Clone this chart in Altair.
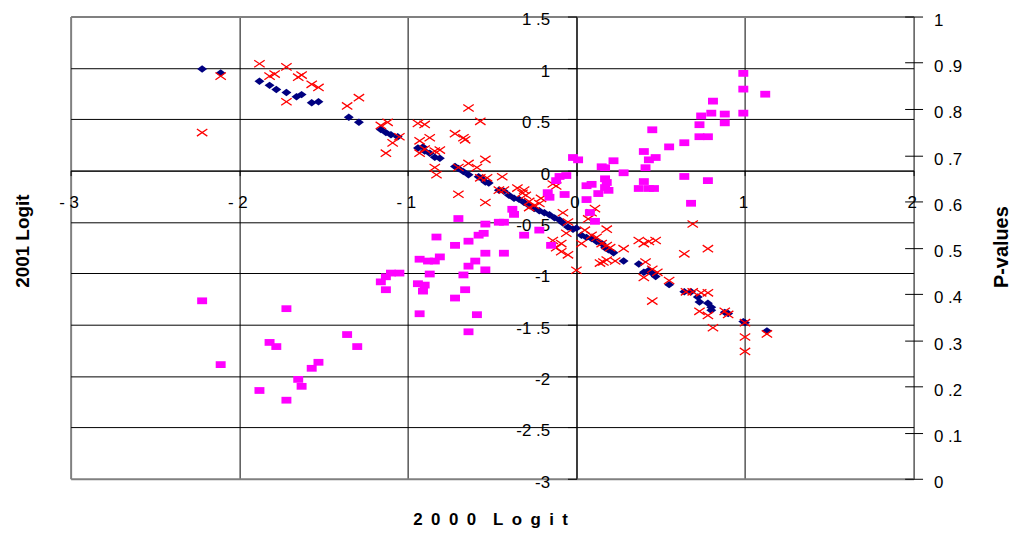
import altair as alt
import pandas as pd

# ---- data ----
blue_x = [-2.22, -2.11, -1.88, -1.82, -1.78, -1.72, -1.66, -1.63, -1.57, -1.53, -1.35, -1.29, -1.16, -1.13,
          -1.10, -1.06, -0.94, -0.91, -0.90, -0.87, -0.84, -0.81, -0.72, -0.70, -0.67, -0.64, -0.58, -0.56,
          -0.54, -0.52, -0.46, -0.43, -0.40, -0.37, -0.34, -0.31, -0.28, -0.25, -0.22, -0.19, -0.16, -0.13,
          -0.10, -0.08, -0.05, -0.02, 0.00, 0.03, 0.06, 0.09, 0.12, 0.15, 0.17, 0.19, 0.22, 0.28, 0.37, 0.40,
          0.43, 0.45, 0.47, 0.55, 0.64, 0.68, 0.72, 0.73, 0.78, 0.80, 0.80, 0.88, 0.90, 0.99, 1.00, 1.13]
blue_y = [0.99, 0.95, 0.87, 0.83, 0.79, 0.76, 0.72, 0.74, 0.66, 0.67, 0.52, 0.47, 0.40, 0.37,
          0.35, 0.33, 0.22, 0.23, 0.19, 0.17, 0.13, 0.12, 0.04, 0.02, -0.01, -0.04, -0.06, -0.08,
          -0.11, -0.12, -0.19, -0.20, -0.24, -0.27, -0.28, -0.31, -0.34, -0.37, -0.39, -0.41, -0.43, -0.46,
          -0.48, -0.51, -0.55, -0.57, -0.56, -0.63, -0.65, -0.66, -0.69, -0.71, -0.75, -0.77, -0.80, -0.88, -0.91, -0.99,
          -0.97, -1.00, -1.03, -1.11, -1.18, -1.18, -1.23, -1.28, -1.29, -1.33, -1.36, -1.38, -1.39, -1.47, -1.48, -1.56]

red_x = [-1.88, -1.82, -1.79, -1.72, -1.65, -1.63, -1.57, -1.53, -2.11, -2.22, -1.72, -1.36, -1.29, -1.16,
         -1.12, -1.09, -1.05, -1.13, -0.94, -0.90, -0.93, -0.87, -0.93, -0.90, -0.84, -0.81, -0.84, -0.83,
         -0.72, -0.70, -0.64, -0.57, -0.67, -0.66, -0.70, -0.64, -0.59, -0.54, -0.57, -0.53, -0.44, -0.54,
         -0.46, -0.43, -0.32, -0.30, -0.28, -0.21, -0.22, -0.25, -0.28, -0.14, -0.12, -0.08, -0.05, -0.06,
         -0.09, -0.12, -0.05, -0.09, -0.14, 0.00, 0.05, 0.09, 0.11, 0.07, 0.03, 0.18, 0.09, 0.12, 0.15, 0.18,
         0.20, 0.28, 0.14, 0.16, 0.18, 0.23, 0.37, 0.40, 0.43, 0.47, 0.41, 0.40, 0.45, 0.48, 0.55, 0.64, 0.69,
         0.45, 0.65, 0.69, 0.74, 0.78, 0.78, 0.73, 0.78, 0.81, 0.88, 0.90, 1.00, 1.00, 1.00, 1.13, -0.35, -0.31]
red_y = [1.04, 0.92, 0.94, 1.01, 0.91, 0.93, 0.84, 0.81, 0.92, 0.37, 0.67, 0.63, 0.71, 0.44,
         0.47, 0.27, 0.33, 0.17, 0.46, 0.45, 0.29, 0.32, 0.17, 0.21, 0.19, 0.20, 0.03, -0.04,
         0.36, -0.23, 0.61, 0.48, 0.32, 0.30, 0.03, 0.07, 0.03, 0.11, -0.07, -0.07, -0.06, -0.31,
         -0.19, -0.19, -0.22, -0.24, -0.30, -0.27, -0.32, -0.34, -0.36, -0.13, -0.15, -0.41, -0.50, -0.61,
         -0.71, -0.75, -0.82, -0.79, -0.68, -0.97, -0.58, -0.41, -0.37, -0.47, -0.71, -0.57, -0.63, -0.65, -0.71, -0.73,
         -0.75, -0.76, -0.90, -0.89, -0.87, -0.88, -0.68, -0.71, -0.69, -0.68, -0.89, -1.04, -0.96, -0.99, -1.07, -0.81, -0.52,
         -1.27, -1.18, -1.18, -1.19, -1.19, -0.76, -1.37, -1.41, -1.53, -1.37, -1.40, -1.48, -1.62, -1.76, -1.59, -0.17, -0.19]

mag_x = [-2.22, -1.72, -2.11, -1.88, -1.82, -1.78, -1.72, -1.65, -1.63, -1.57, -1.53, -1.36, -1.30, -1.16,
         -1.13, -1.13, -1.10, -1.05, -0.94, -0.90, -0.91, -0.93, -0.87, -0.93, -0.88, -0.84, -0.81, -0.83,
         -0.72, -0.64, -0.58, -0.55, -0.54, -0.72, -0.67, -0.66, -0.64, -0.60, -0.64, -0.59, -0.70, -0.46,
         -0.43, -0.38, -0.37, -0.43, -0.54, -0.54, -0.31, -0.22, -0.15, -0.17, -0.16, -0.07, -0.12, -0.10,
         -0.06, -0.02, 0.01, 0.15, 0.17, 0.09, 0.06, 0.13, 0.17, 0.18, 0.17, 0.19, 0.22, 0.28, 0.06, 0.08,
         0.11, 0.37, 0.40, 0.43, 0.46, 0.40, 0.43, 0.47, 0.41, 0.45, 0.55, 0.64, 0.64, 0.68, 0.73, 0.78,
         0.73, 0.74, 0.80, 0.81, 0.78, 0.88, 0.88, 0.99, 0.99, 0.99, 1.12]
mag_p = [0.385, 0.368, 0.247, 0.191, 0.295, 0.286, 0.170, 0.215, 0.200, 0.239, 0.252, 0.312, 0.286, 0.426,
         0.437, 0.409, 0.445, 0.445, 0.422, 0.419, 0.406, 0.357, 0.443, 0.475, 0.471, 0.471, 0.480, 0.523,
         0.505, 0.514, 0.527, 0.531, 0.551, 0.391, 0.441, 0.409, 0.460, 0.471, 0.318, 0.355, 0.563, 0.555,
         0.555, 0.583, 0.572, 0.488, 0.488, 0.452, 0.527, 0.538, 0.505, 0.619, 0.609, 0.615, 0.645, 0.654,
         0.656, 0.695, 0.690, 0.675, 0.673, 0.637, 0.634, 0.617, 0.649, 0.641, 0.630, 0.624, 0.688, 0.662, 0.604, 0.576,
         0.557, 0.628, 0.643, 0.628, 0.628, 0.708, 0.690, 0.695, 0.673, 0.755, 0.718, 0.727, 0.654, 0.596, 0.740, 0.740,
         0.766, 0.785, 0.791, 0.817, 0.645, 0.789, 0.770, 0.877, 0.843, 0.791, 0.832]

x_ticks = [-3, -2, -1, 0, 1, 2]
y_ticks = [-3, -2.5, -2, -1.5, -1, -0.5, 0, 0.5, 1, 1.5]
p_ticks = [0, 0.1, 0.2, 0.3, 0.4, 0.5, 0.6, 0.7, 0.8, 0.9, 1]

x_title = "2\u20020\u20020\u20020\u2002\u2002L\u2002o\u2002g\u2002i\u2002t"
y_title = "2001 Logit"
p_title = "P-values"

FONT = "Liberation Sans"

blue_df = pd.DataFrame({"x": blue_x, "y": blue_y})
red_df = pd.DataFrame({"x": red_x, "y": red_y})
mag_df = pd.DataFrame({"x": mag_x, "p": mag_p})

x_enc = alt.X(
    "x:Q",
    scale=alt.Scale(domain=[-3, 2], nice=False, zero=False),
    axis=alt.Axis(
        values=x_ticks, orient="bottom", offset=-310,
        title=x_title, titleFont=FONT, titleFontSize=17, titleFontWeight="bold", titleColor="black",
        titleX=422, titleY=351.5, titleAlign="center", titleBaseline="middle", titleAngle=0,
        labelExpr="(datum.value < 0 ? '- ' : '') + format(abs(datum.value), 'd')",
        labelFont=FONT, labelFontSize=17, labelColor="black", labelPadding=19, labelOffset=-2,
        labelFlush=False, labelOverlap=False,
        domainColor="black", domainWidth=1, tickColor="black", tickSize=5, tickWidth=1,
        grid=True,
        gridColor={"condition": {"test": "datum.value == -3", "value": "#808080"}, "value": "#000000"},
        gridWidth={"condition": {"test": "datum.value == -3", "value": 2}, "value": 1},
    ),
)

y_enc = alt.Y(
    "y:Q",
    scale=alt.Scale(domain=[-3, 1.5], nice=False, zero=False),
    axis=alt.Axis(
        values=y_ticks, orient="left", offset=-508.8,
        title=y_title, titleFont=FONT, titleFontSize=19, titleFontWeight="bold", titleColor="black",
        titleX=-557.5, titleY=225.5, titleAlign="center", titleBaseline="middle", titleAngle=270,
        labelExpr="(datum.value < 0 ? '-' : '') + replace(format(abs(datum.value), '.1~f'), '.', ' .')",
        labelFont=FONT, labelFontSize=17, labelColor="black", labelPadding=18, labelOffset=3.5,
        labelOverlap=False, labelFlush=False,
        domainColor="black", domainWidth=1, tickColor="black", tickSize=9, tickWidth=1,
        grid=True,
        gridColor={"condition": {"test": "datum.value == 1.5 || datum.value == -3", "value": "#808080"},
                   "value": "#000000"},
        gridWidth={"condition": {"test": "datum.value == 1.5 || datum.value == -3", "value": 2}, "value": 1},
    ),
)

p_enc = alt.Y(
    "p:Q",
    scale=alt.Scale(domain=[0, 1], nice=False, zero=False),
    axis=alt.Axis(
        values=p_ticks, orient="right", offset=-9, domain=False,
        title=p_title, titleFont=FONT, titleFontSize=20, titleFontWeight="bold", titleColor="black",
        titleX=97, titleY=231.5, titleAlign="center", titleBaseline="middle", titleAngle=270,
        labelExpr="(datum.value == 0 || datum.value == 1) ? format(datum.value, 'd') : replace(format(datum.value, '.1f'), '.', ' .')",
        labelFont=FONT, labelFontSize=17, labelColor="black", labelPadding=11, labelOffset=4,
        labelOverlap=False, labelFlush=False,
        tickColor="black", tickSize=18, tickWidth=1, grid=False,
    ),
)

blue = alt.Chart(blue_df).mark_point(
    shape="M-1,0L0,-0.75L1,0L0,0.75Z", filled=True, color="#000080", size=100, opacity=1
).encode(x=x_enc, y=y_enc)

red = alt.Chart(red_df).mark_point(
    shape="M-1,-0.68L1,0.68M-1,0.68L1,-0.68", filled=False, color="#FF0000", size=110,
    strokeWidth=1.3, opacity=1
).encode(x=x_enc, y=y_enc)

mag = alt.Chart(mag_df).mark_point(
    shape="M-1,-0.68H1V0.68H-1Z", filled=True, color="#FF00FF", size=100, opacity=1
).encode(x=x_enc, y=p_enc)

inner = alt.layer(blue, red)

chart = alt.layer(inner, mag).resolve_scale(y="independent").properties(
    width=848, height=465,
    autosize=alt.AutoSizeParams(type="none"),
    padding={"left": 63, "top": 7, "right": 100, "bottom": 60},
    background="white",
).configure_view(stroke="transparent")

chart.save("out.html", embed_options={"renderer": "svg", "actions": False})
